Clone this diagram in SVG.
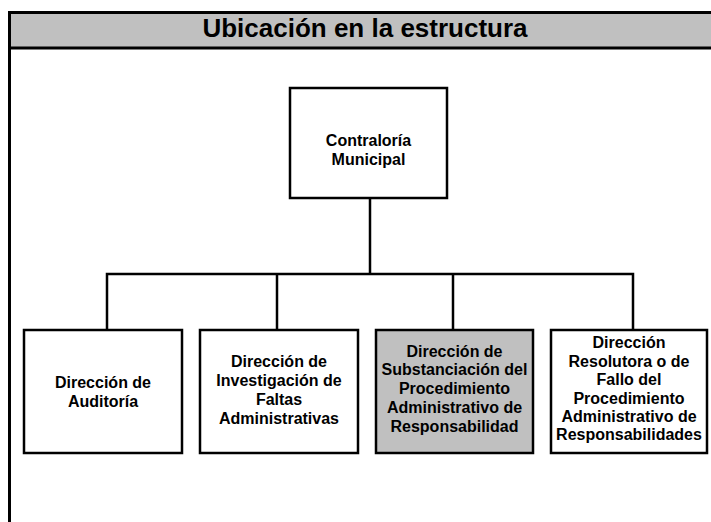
<svg xmlns="http://www.w3.org/2000/svg" width="711" height="522" viewBox="0 0 711 522">
<style>
.box{fill:#ffffff;stroke:#000000;stroke-width:2.5}
.gray{fill:#c0c0c0}
.lbl{font-family:"Liberation Sans",Arial,sans-serif;font-weight:bold;font-size:16px;text-anchor:middle;fill:#000000}
.title{font-family:"Liberation Sans",Arial,sans-serif;font-weight:bold;font-size:26px;text-anchor:middle;fill:#000000}
.conn{fill:none;stroke:#000000;stroke-width:2.5}
</style>
<rect width="711" height="522" fill="#ffffff"/>
<g id="header">
<rect x="9.5" y="12.5" width="710" height="35.5" fill="#c0c0c0" stroke="#000000" stroke-width="3"/>
<line x1="9.5" y1="48" x2="9.5" y2="522" stroke="#000000" stroke-width="3"/>
<text class="title" x="365" y="37">Ubicación en la estructura</text>
</g>
<g id="connectors">
<path class="conn" d="M370,198 V274"/>
<path class="conn" d="M107,330 V274 H633 V330"/>
<path class="conn" d="M277,274 V330"/>
<path class="conn" d="M453,274 V330"/>
</g>
<g id="contraloria">
<rect class="box" x="290" y="88" width="157" height="110"/>
<text class="lbl" x="368.5" y="146">Contraloría</text>
<text class="lbl" x="368.5" y="164.5">Municipal</text>
</g>
<g id="auditoria">
<rect class="box" x="24" y="330" width="158" height="123"/>
<text class="lbl" x="103" y="388.3">Dirección de</text>
<text class="lbl" x="103" y="407.3">Auditoría</text>
</g>
<g id="investigacion">
<rect class="box" x="200" y="330" width="158" height="123"/>
<text class="lbl" x="279" y="367.3">Dirección de</text>
<text class="lbl" x="279" y="386.3">Investigación de</text>
<text class="lbl" x="279" y="405">Faltas</text>
<text class="lbl" x="279" y="424">Administrativas</text>
</g>
<g id="substanciacion">
<rect class="box gray" x="376" y="330" width="157" height="123"/>
<text class="lbl" x="454.5" y="356.7">Dirección de</text>
<text class="lbl" x="454.5" y="375">Substanciación del</text>
<text class="lbl" x="454.5" y="393.5">Procedimiento</text>
<text class="lbl" x="454.5" y="412.5">Administrativo de</text>
<text class="lbl" x="454.5" y="431.5">Responsabilidad</text>
</g>
<g id="resolutora">
<rect class="box" x="551" y="330" width="156" height="123"/>
<text class="lbl" x="629" y="348">Dirección</text>
<text class="lbl" x="629" y="366.7">Resolutora o de</text>
<text class="lbl" x="629" y="385">Fallo del</text>
<text class="lbl" x="629" y="403.5">Procedimiento</text>
<text class="lbl" x="629" y="421.7">Administrativo de</text>
<text class="lbl" x="629" y="440">Responsabilidades</text>
</g>
</svg>
